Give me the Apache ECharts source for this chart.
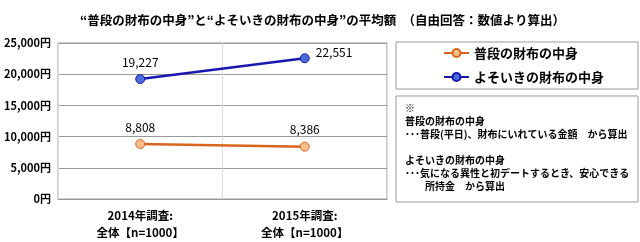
<!DOCTYPE html>
<html><head><meta charset="utf-8">
<script src="https://cdn.jsdelivr.net/npm/echarts@6/dist/echarts.min.js"></script>
<style>html,body{margin:0;padding:0;background:#fff}#c{width:640px;height:242px}</style>
</head><body><div id="c"></div>
<script>
const categories = ['2014年調査:\n全体【n=1000】', '2015年調査:\n全体【n=1000】'];
const seriesNames = ['普段の財布の中身', 'よそいきの財布の中身'];
const everyday = [8808, 8386];
const outing = [19227, 22551];
const yTicks = [0, 5000, 10000, 15000, 20000, 25000];
const titleText = '“普段の財布の中身”と“よそいきの財布の中身”の平均額　（自由回答：数値より算出）';
const noteLines = ['※', '普段の財布の中身', '･･･普段(平日)、財布にいれている金額　から算出', '', 'よそいきの財布の中身', '･･･気になる異性と初デートするとき、安心できる', '　　所持金　から算出'];

const FONT = '"Noto Sans CJK JP", sans-serif';
const chart = echarts.init(document.getElementById('c'));
const fmt = v => v.toLocaleString('en-US');
chart.setOption({
  animation: false,
  textStyle: {fontFamily: FONT},
  title: {text: titleText, left: 75, top: 9, textStyle: {fontSize: 12.5, fontWeight: 'bold', color: '#000', fontFamily: FONT}},
  grid: {left: 58, right: 253, top: 43, bottom: 43, show: true, borderColor: '#999', borderWidth: 1},
  legend: {
    orient: 'vertical', left: 443, top: 46.5, padding: 0, itemWidth: 25, itemHeight: 10, itemGap: 11,
    data: seriesNames,
    textStyle: {fontSize: 13, fontWeight: 'bold', color: '#000', fontFamily: FONT}
  },
  xAxis: {
    type: 'category', data: categories, boundaryGap: true,
    axisLine: {show: true, lineStyle: {color: '#999'}},
    axisTick: {show: false},
    splitLine: {show: true, lineStyle: {color: '#ddd'}},
    axisLabel: {fontSize: 11.5, fontWeight: 'bold', color: '#000', lineHeight: 17, margin: 8, fontFamily: FONT}
  },
  yAxis: {
    type: 'value', min: yTicks[0], max: yTicks[yTicks.length - 1], interval: 5000,
    axisLine: {show: false}, axisTick: {show: false},
    splitLine: {lineStyle: {color: '#999'}},
    axisLabel: {formatter: v => fmt(v) + '円', fontSize: 11, fontWeight: 'bold', color: '#000', margin: 7, fontFamily: FONT}
  },
  series: [
    {
      name: seriesNames[0], type: 'line', data: everyday, symbol: 'circle', symbolSize: 9,
      lineStyle: {color: '#D8641E', width: 2.5},
      itemStyle: {color: '#F8BE8C', borderColor: '#D8641E', borderWidth: 1},
      label: {show: true, position: 'top', distance: 6, formatter: p => fmt(p.value), fontSize: 12, color: '#000', fontFamily: FONT}
    },
    {
      name: seriesNames[1], type: 'line', symbol: 'circle', symbolSize: 9,
      data: [
        {value: outing[0]},
        {value: outing[1], label: {position: 'right', offset: [0, -6]}}
      ],
      lineStyle: {color: '#1818B0', width: 2.5},
      itemStyle: {color: '#4A6CD8', borderColor: '#1818B0', borderWidth: 1},
      label: {show: true, position: 'top', distance: 6, formatter: p => fmt(p.value), fontSize: 12, color: '#000', fontFamily: FONT}
    }
  ],
  graphic: [
    {type: 'rect', shape: {x: 396, y: 42, width: 242, height: 47}, style: {fill: 'none', stroke: '#999', lineWidth: 1}},
    {type: 'rect', shape: {x: 396, y: 96, width: 242, height: 106}, style: {fill: 'none', stroke: '#999', lineWidth: 1}},
    {type: 'text', left: 405, top: 101.5, style: {text: noteLines.join('\n'), font: 'bold 10px ' + FONT, lineHeight: 13, fill: '#000'}}
  ]
});
</script></body></html>
